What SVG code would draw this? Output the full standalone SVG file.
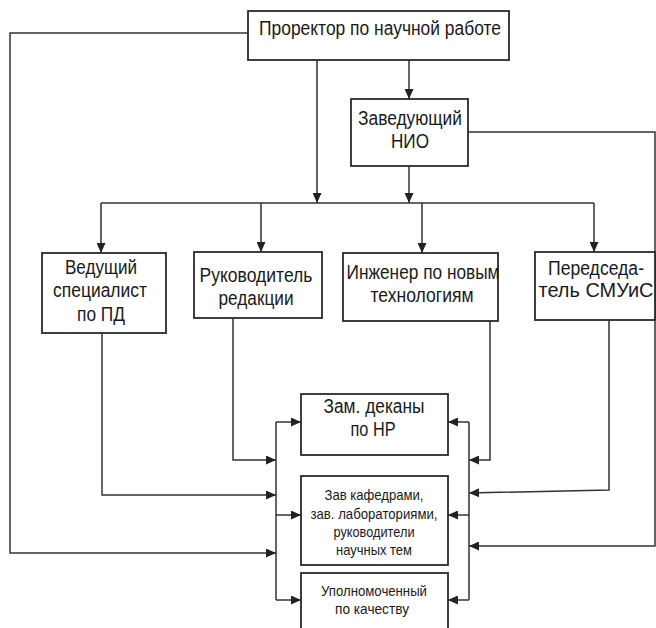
<svg xmlns="http://www.w3.org/2000/svg" width="656" height="628" viewBox="0 0 656 628">
<defs>
<marker id="arr" markerUnits="userSpaceOnUse" markerWidth="11" markerHeight="9" refX="10" refY="4.5" orient="auto">
<path d="M0,0 L10,4.5 L0,9 z" fill="#222"/>
</marker>
<style>
.box{fill:#fff;stroke:#2a2a2a;stroke-width:1.8}
.ln{fill:none;stroke:#333;stroke-width:1.5}
.ar{marker-end:url(#arr)}
text{font-family:"Liberation Sans",Arial,sans-serif;fill:#1a1a1a;text-anchor:middle}
.t{font-size:20px}
.s{font-size:15px}
</style>
</defs>
<rect width="656" height="628" fill="#fff"/>
<g id="connectors">
<path class="ln ar" d="M248,33 H10 V553 H276"/>
<path class="ln ar" d="M317,60 V203"/>
<path class="ln ar" d="M409,60 V99"/>
<path class="ln ar" d="M409,166 V203"/>
<path class="ln" d="M101,203 H594"/>
<path class="ln ar" d="M101,203 V253"/>
<path class="ln ar" d="M261,203 V252"/>
<path class="ln ar" d="M422,203 V253"/>
<path class="ln ar" d="M594,203 V252"/>
<path class="ln ar" d="M468,132 H655 V546 H469"/>
<path class="ln ar" d="M102,333 V495 H276"/>
<path class="ln ar" d="M233,318 V460 H276"/>
<path class="ln ar" d="M490,321 V460 H469"/>
<path class="ln ar" d="M609,320 V490 L469,493"/>
<path class="ln" d="M276,422 V600"/>
<path class="ln ar" d="M276,422 H301"/>
<path class="ln ar" d="M276,515 H301"/>
<path class="ln ar" d="M276,600 H301"/>
<path class="ln" d="M469,422 V600"/>
<path class="ln ar" d="M469,422 H448"/>
<path class="ln ar" d="M469,515 H448"/>
<path class="ln ar" d="M469,600 H448"/>
</g>
<g id="prorector">
<rect class="box" x="248" y="11" width="261" height="49"/>
<text class="t" x="380" y="35" textLength="242" lengthAdjust="spacingAndGlyphs">Проректор по научной работе</text>
</g>
<g id="zav-nio">
<rect class="box" x="351" y="99" width="117" height="67"/>
<text class="t" x="410" y="125" textLength="104" lengthAdjust="spacingAndGlyphs">Заведующий</text>
<text class="t" x="410" y="148" textLength="38" lengthAdjust="spacingAndGlyphs">НИО</text>
</g>
<g id="vedushchiy">
<rect class="box" x="42" y="253" width="124" height="80"/>
<text class="t" x="101" y="274" textLength="72" lengthAdjust="spacingAndGlyphs">Ведущий</text>
<text class="t" x="100" y="297" textLength="94" lengthAdjust="spacingAndGlyphs">специалист</text>
<text class="t" x="101" y="321" textLength="48" lengthAdjust="spacingAndGlyphs">по ПД</text>
</g>
<g id="rukovoditel">
<rect class="box" x="194" y="252" width="128" height="66"/>
<text class="t" x="256" y="282" textLength="113" lengthAdjust="spacingAndGlyphs">Руководитель</text>
<text class="t" x="256" y="305" textLength="75" lengthAdjust="spacingAndGlyphs">редакции</text>
</g>
<g id="inzhener">
<rect class="box" x="343" y="253" width="155" height="68"/>
<text class="t" x="423" y="279" textLength="153" lengthAdjust="spacingAndGlyphs">Инженер по новым</text>
<text class="t" x="422" y="302" textLength="103" lengthAdjust="spacingAndGlyphs">технологиям</text>
</g>
<g id="predsedatel">
<rect class="box" x="535" y="252" width="120" height="68"/>
<text class="t" x="596" y="275" textLength="96" lengthAdjust="spacingAndGlyphs">Передседа-</text>
<text class="t" x="596" y="297" textLength="115" lengthAdjust="spacingAndGlyphs">тель СМУиС</text>
</g>
<g id="zam-dekany">
<rect class="box" x="301" y="394" width="147" height="61"/>
<text class="t" x="374" y="413" textLength="101" lengthAdjust="spacingAndGlyphs">Зам. деканы</text>
<text class="t" x="373" y="436" textLength="45" lengthAdjust="spacingAndGlyphs">по НР</text>
</g>
<g id="zav-kafedrami">
<rect class="box" x="301" y="476" width="147" height="89"/>
<text class="s" x="374" y="500" textLength="99" lengthAdjust="spacingAndGlyphs">Зав кафедрами,</text>
<text class="s" x="374" y="519" textLength="127" lengthAdjust="spacingAndGlyphs">зав. лабораториями,</text>
<text class="s" x="374" y="537" textLength="81" lengthAdjust="spacingAndGlyphs">руководители</text>
<text class="s" x="374" y="555" textLength="76" lengthAdjust="spacingAndGlyphs">научных тем</text>
</g>
<g id="upolnomochenny">
<rect class="box" x="301" y="573" width="147" height="70"/>
<text class="s" x="374" y="596" textLength="106" lengthAdjust="spacingAndGlyphs">Уполномоченный</text>
<text class="s" x="372" y="614" textLength="74" lengthAdjust="spacingAndGlyphs">по качеству</text>
</g>
</svg>
